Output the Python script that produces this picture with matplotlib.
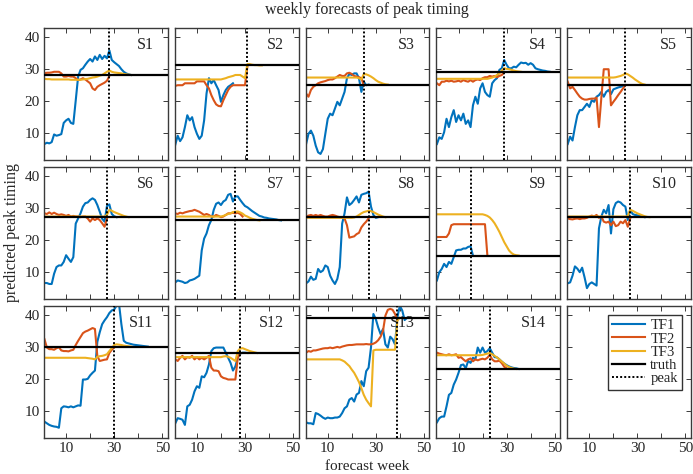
import numpy as np
import matplotlib
matplotlib.use('Agg')
import matplotlib.pyplot as plt
from matplotlib.lines import Line2D

plt.rcParams['font.family'] = ['Liberation Serif', 'DejaVu Serif']

panel_names = ['S1', 'S2', 'S3', 'S4', 'S5', 'S6', 'S7', 'S8', 'S9', 'S10', 'S11', 'S12', 'S13', 'S14']
truth = [28, 31, 25, 29, 25, 27, 26, 27, 15, 27, 30, 28, 39, 23]
peak_week = [28, 31, 25, 29, 25, 27, 26, 27, 15, 27, 30, 28, 39, 23]
series_names = ['TF1', 'TF2', 'TF3']
x_ticks = [10, 20, 30, 40, 50]
x_tick_labels = ['10', '', '30', '', '50']
y_ticks = [10, 20, 30, 40]
y_tick_labels = ['10', '20', '30', '40']

# ---- S1 ----
s1_tf1 = [6.4, 6.8, 6.6, 7.0, 9.4, 9.0, 9.2, 9.5, 13.0, 13.8, 14.3, 13.0, 12.7, 20.0, 27.5, 29.6, 30.1, 31.2, 32.2, 33.0,
          32.2, 33.8, 32.7, 34.3, 33.0, 34.0, 33.2, 35.7, 32.7, 32.0, 31.4, 30.8, 29.8, 29.0, 28.5, 28.2, 28.0]
s1_tf2 = [28.5, 28.7, 28.7, 28.8, 29.0, 29.0, 29.0, 28.5, 27.5, 27.5, 27.7, 27.5, 27.5, 27.0, 26.4, 26.6, 27.0, 26.6,
          26.0, 25.4, 23.8, 23.3, 24.3, 24.8, 25.2, 25.6, 26.2, 27.7]
s1_tf3 = [26.8, 26.7, 26.7, 26.6, 26.6, 26.6, 26.6, 26.6, 26.6, 26.6, 26.6, 26.5, 26.5, 26.5, 26.5, 26.5, 26.6, 26.7,
          26.8, 27.0, 27.2, 27.3, 27.5, 27.8, 28.0, 28.5, 29.0, 29.4, 29.0, 28.8, 28.7, 28.6, 28.5, 28.3, 28.2, 28.1, 28.0]
# ---- S2 ----
s2_tf1 = [6.2, 9.0, 7.3, 8.5, 11.7, 15.4, 13.8, 14.8, 11.7, 9.6, 8.0, 9.0, 13.8, 22.2, 27.0, 25.4, 26.4, 24.8, 23.3,
          19.6, 21.7, 23.3, 24.3, 24.8, 25.4]
s2_tf2 = [24.6, 24.8, 24.8, 24.8, 25.4, 25.4, 25.4, 25.4, 25.4, 26.0, 26.0, 26.0, 26.0, 24.8, 23.8, 21.7, 20.1, 18.8,
          18.3, 18.2, 20.1, 21.7, 23.3, 24.3, 24.8, 24.8, 24.8, 24.8, 24.8, 24.8, 30.6]
s2_tf3 = [26.6, 26.6, 26.6, 26.6, 26.6, 26.6, 26.6, 26.6, 26.6, 26.6, 26.6, 26.6, 26.6, 26.6, 26.6, 26.6, 26.6, 26.6,
          26.6, 26.6, 26.8, 27.0, 27.3, 27.5, 27.7, 28.0, 28.0, 28.0, 27.5, 27.0, 31.4, 31.4, 31.2, 31.1, 31.1, 31.0, 31.0]
# ---- S3 ----
s3_tf1 = [6.4, 9.6, 10.6, 9.0, 5.9, 3.8, 3.3, 4.8, 9.6, 14.3, 15.9, 15.4, 17.5, 19.6, 18.5, 20.6, 22.7, 27.0, 28.3,
          28.0, 28.5, 28.5, 27.0, 22.7, 25.9, 24.8, 25.0]
s3_tf2 = [22.2, 21.2, 23.3, 24.3, 24.8, 25.4, 25.7, 25.9, 26.1, 26.4, 26.6, 26.6, 27.0, 27.5, 28.0, 27.7, 27.7, 28.5,
          28.7, 28.3, 27.7, 27.5, 27.3, 27.0, 24.8]
s3_tf3 = [27.2, 27.2, 27.2, 27.2, 27.2, 27.2, 27.2, 27.2, 27.2, 27.2, 27.2, 27.2, 27.2, 27.2, 27.2, 27.2, 27.2, 27.2,
          27.2, 27.2, 27.2, 27.2, 27.0, 26.6, 28.3, 28.2, 27.9, 27.5, 27.0, 26.4, 25.9, 25.6, 25.3, 25.1, 25.0]
# ---- S4 ----
s4_tf1 = [6.4, 8.5, 8.0, 10.1, 14.3, 11.7, 14.8, 17.0, 13.3, 15.4, 13.8, 15.9, 12.7, 13.8, 11.7, 18.5, 21.2, 19.0,
          23.8, 25.4, 22.7, 21.7, 21.2, 25.4, 26.4, 27.0, 29.6, 30.1, 32.7, 31.2, 30.1, 30.1, 30.6, 30.4, 31.2, 31.9,
          31.7, 31.8, 31.2, 31.7, 31.2, 30.1, 29.8, 29.6, 29.4, 29.3, 29.1, 29.0]
s4_tf2 = [25.4, 24.8, 25.9, 25.9, 26.2, 26.0, 26.2, 25.9, 26.0, 26.2, 25.9, 26.4, 26.1, 25.9, 26.4, 25.9, 26.4, 26.6,
          26.4, 27.0, 27.3, 27.3, 27.7, 27.5, 27.7, 27.3, 27.7, 28.0, 28.8]
s4_tf3 = [26.8, 26.8, 26.8, 26.8, 26.8, 26.8, 26.8, 26.8, 26.8, 26.8, 26.8, 26.8, 26.8, 26.8, 26.8, 26.8, 26.8, 26.8,
          26.8, 26.8, 26.8, 26.8, 27.0, 27.2, 27.5, 28.0, 28.5, 29.4, 30.1, 29.9, 29.8, 29.6, 29.4, 29.2, 29.1, 29.0]
# ---- S5 ----
s5_tf1 = [6.4, 8.7, 7.5, 11.7, 15.4, 17.0, 17.0, 18.0, 19.0, 18.0, 20.1, 19.6, 21.2, 21.7, 22.7, 21.2, 22.7, 23.3,
          22.0, 23.5, 23.8, 24.1, 24.3, 24.5, 24.8]
s5_tf2 = [25.9, 23.8, 24.3, 23.3, 22.2, 21.2, 20.6, 20.3, 20.3, 20.5, 20.6, 20.6, 20.9, 11.7, 21.0, 29.8, 29.8, 29.8,
          18.5, 19.6, 20.6, 21.7, 22.7, 23.8, 24.8]
s5_tf3 = [27.2, 27.2, 27.2, 27.2, 27.2, 27.2, 27.2, 27.2, 27.2, 27.2, 27.2, 27.2, 27.2, 27.2, 27.2, 27.2, 27.2, 27.2,
          27.2, 27.2, 27.3, 27.5, 27.7, 28.0, 28.5, 28.2, 27.7, 27.2, 26.6, 26.1, 25.6, 25.2, 25.0]
# ---- S6 ----
s6_tf1 = [6.4, 6.4, 6.1, 6.1, 9.3, 11.4, 11.9, 11.9, 13.0, 15.1, 14.0, 13.0, 14.5, 25.0, 26.6, 28.2, 30.3, 31.4,
          31.6, 32.4, 32.9, 32.4, 30.8, 28.7, 26.5, 25.6, 30.5, 31.0, 28.0, 27.3, 27.0]
s6_tf2 = [28.2, 28.0, 28.5, 28.0, 28.4, 28.0, 27.7, 27.9, 27.7, 27.4, 27.7, 27.2, 27.4, 27.2, 27.2, 27.0, 27.2, 27.2,
          26.6, 25.6, 26.6, 26.1, 26.6, 26.1, 25.1, 24.0, 26.6]
s6_tf3 = [27.2, 27.2, 27.2, 27.2, 27.2, 27.2, 27.2, 27.2, 27.2, 27.2, 27.2, 27.2, 27.2, 27.2, 27.2, 27.2, 27.2, 27.2,
          27.2, 27.2, 27.2, 27.2, 27.2, 27.2, 27.2, 27.2, 27.7, 29.3, 29.0, 28.6, 28.3, 28.0, 27.7, 27.4, 27.2, 27.0]
# ---- S7 ----
s7_tf1 = [6.6, 7.2, 7.0, 6.8, 6.4, 6.6, 7.2, 7.4, 7.7, 8.2, 8.7, 16.6, 20.3, 21.9, 24.5, 26.1, 29.3, 31.2, 31.6,
          30.8, 31.9, 32.4, 34.0, 34.3, 31.9, 33.5, 33.5, 32.4, 31.4, 30.5, 30.1, 29.5, 28.9, 28.4, 27.9, 27.4, 27.2,
          26.9, 26.8, 26.6, 26.5, 26.4, 26.3, 26.1, 26.0]
s7_tf2 = [28.2, 28.0, 28.4, 28.2, 28.5, 28.7, 28.9, 29.0, 29.3, 29.0, 28.7, 28.2, 27.7, 28.0, 27.7, 27.2, 27.2, 27.7,
          27.4, 27.0, 27.2, 27.7, 28.2, 28.2, 28.4, 28.2, 28.4, 28.0, 27.2]
s7_tf3 = [27.2, 27.2, 27.2, 27.2, 27.2, 27.2, 27.2, 27.2, 27.2, 27.2, 27.2, 27.2, 27.2, 27.2, 27.2, 27.2, 27.2, 27.2,
          27.2, 27.2, 27.4, 27.7, 28.0, 28.2, 28.6, 28.7, 28.8, 28.5, 28.1, 27.5, 27.2, 26.8, 26.5, 26.3, 26.1, 26.0]
# ---- S8 ----
s8_tf1 = [6.3, 6.9, 8.4, 7.4, 7.7, 10.8, 9.8, 10.3, 11.9, 11.4, 8.7, 7.2, 6.1, 7.7, 11.4, 25.0, 28.2, 33.2, 30.8,
          31.4, 32.4, 33.5, 31.6, 34.0, 34.3, 34.5, 35.0, 30.3, 27.7, 26.8, 27.0]
s8_tf2 = [27.2, 27.5, 27.7, 27.4, 27.7, 27.4, 27.7, 27.4, 27.2, 27.2, 27.5, 27.7, 27.5, 27.2, 27.0, 26.9, 26.6, 24.5,
          20.6, 20.8, 21.0, 21.7, 22.1, 23.8, 24.8, 25.6, 26.6]
s8_tf3 = [26.8, 26.8, 26.8, 26.8, 26.8, 26.8, 26.8, 26.8, 26.8, 26.8, 26.8, 26.8, 26.8, 26.8, 26.8, 26.8, 26.8, 26.8,
          26.8, 26.8, 26.9, 27.2, 27.7, 28.2, 28.6, 28.8, 29.0, 28.9, 28.6, 28.2, 27.8, 27.5, 27.2, 27.0]
# ---- S9 ----
s9_tf1 = [7.2, 9.8, 10.8, 12.4, 11.4, 13.0, 12.4, 14.5, 16.6, 16.8, 16.8, 17.2, 17.2, 17.7, 17.9, 15.0]
s9_tf2 = [20.8, 20.8, 20.8, 20.8, 20.8, 21.9, 24.5, 24.8, 24.8, 24.8, 24.8, 24.8, 24.8, 24.8, 24.8, 24.8, 24.8, 24.8,
          24.8, 24.8, 24.8, 15.0]
s9_tf3 = [27.9, 27.9, 27.9, 27.9, 27.9, 27.9, 27.9, 27.9, 27.9, 27.9, 27.9, 27.9, 27.9, 27.9, 27.9, 27.9, 27.9, 27.9,
          27.9, 27.9, 27.7, 27.4, 26.9, 26.1, 25.1, 23.8, 22.4, 20.8, 19.2, 17.9, 16.6, 15.8, 15.3, 15.1, 15.0]
# ---- S10 ----
s10_tf1 = [6.3, 6.6, 8.7, 11.6, 10.9, 9.8, 11.2, 8.2, 4.8, 6.1, 6.6, 6.1, 5.6, 23.5, 27.2, 29.3, 28.2, 30.8, 21.9,
           29.5, 31.4, 31.9, 31.6, 30.8, 30.3, 26.1, 29.3, 28.0, 27.7, 27.6, 27.4, 27.2, 27.0]
s10_tf2 = [26.6, 26.4, 26.3, 26.5, 26.6, 26.4, 26.6, 26.6, 26.8, 27.2, 27.5, 27.2, 27.7, 26.8, 27.2, 25.6, 25.3, 25.6,
           24.5, 25.6, 24.2, 24.5, 25.6, 25.1, 26.1, 24.0, 26.6]
s10_tf3 = [27.2, 27.2, 27.2, 27.2, 27.2, 27.2, 27.2, 27.2, 27.2, 27.2, 27.2, 27.2, 27.2, 27.2, 27.2, 27.2, 27.2, 27.2,
           27.2, 27.2, 27.2, 27.2, 27.2, 27.2, 27.2, 27.4, 29.3, 29.0, 28.6, 28.2, 27.9, 27.6, 27.3, 27.1, 27.0]
# ---- S11 ----
s11_tf1 = [6.5, 6.0, 5.5, 5.2, 5.0, 4.9, 4.6, 10.7, 11.3, 11.2, 11.0, 11.3, 11.0, 11.3, 11.6, 11.5, 19.7, 19.7, 19.9,
           21.0, 21.8, 22.5, 31.5, 34.5, 37.0, 38.2, 39.2, 40.5, 41.3, 41.6, 42.8, 43.5, 37.0, 31.8, 31.2, 31.0, 30.8,
           30.6, 30.5, 30.4, 30.3, 30.2, 30.1, 30.0]
s11_tf2 = [32.3, 29.7, 29.2, 29.2, 29.0, 29.5, 29.8, 28.8, 28.6, 28.6, 28.5, 28.8, 29.0, 30.5, 31.8, 33.0, 34.2, 34.7,
           35.0, 35.4, 35.8, 35.5, 27.0, 25.5, 25.7, 25.9, 26.0, 28.0, 29.0, 29.7]
s11_tf3 = [26.5, 26.5, 26.5, 26.5, 26.5, 26.5, 26.5, 26.5, 26.5, 26.5, 26.5, 26.5, 26.5, 26.5, 26.5, 26.5, 26.5, 26.5,
           26.4, 26.3, 26.2, 26.0, 26.8, 27.0, 27.1, 27.3, 27.6, 28.6, 29.5, 30.5, 30.7, 30.6, 30.5, 30.3, 30.2, 30.1,
           30.0]
# ---- S12 ----
s12_tf1 = [6.0, 7.6, 7.4, 7.1, 5.5, 11.3, 11.8, 13.4, 16.0, 17.6, 17.1, 20.7, 20.4, 21.8, 24.4, 28.6, 29.5, 29.7,
           29.7, 29.7, 29.7, 28.1, 26.5, 24.9, 22.5, 23.8, 26.5, 27.8, 28.1, 28.1, 28.0]
s12_tf2 = [26.0, 25.5, 26.5, 27.1, 26.0, 26.7, 26.5, 27.1, 26.0, 26.7, 26.0, 26.5, 26.0, 26.5, 27.1, 23.4, 22.5, 22.5,
           22.3, 20.7, 20.2, 20.0, 19.7, 19.7, 19.7, 19.7, 26.5, 28.1]
s12_tf3 = [26.7, 26.7, 26.7, 26.7, 26.7, 26.7, 26.7, 26.7, 26.7, 26.7, 26.7, 26.7, 26.7, 26.7, 26.7, 26.7, 26.7, 26.7,
           26.7, 26.7, 26.9, 27.0, 26.8, 26.5, 26.0, 25.5, 28.6, 29.4, 29.5, 29.2, 28.9, 28.6, 28.4, 28.2, 28.0]
# ---- S13 ----
s13_tf1 = [6.3, 6.0, 6.0, 5.7, 9.2, 8.9, 8.4, 7.8, 7.4, 7.8, 7.6, 7.6, 7.8, 7.8, 8.1, 9.2, 10.7, 11.3, 13.4, 13.9,
           12.8, 15.0, 15.5, 19.2, 17.6, 22.3, 23.4, 29.7, 40.2, 38.6, 36.0, 33.9, 35.5, 30.7, 29.7, 33.1, 32.3, 30.7,
           39.2, 42.8, 41.3, 38.3, 39.0]
s13_tf2 = [28.1, 28.6, 28.4, 28.8, 28.8, 29.0, 29.2, 29.4, 29.5, 29.5, 29.7, 29.5, 29.7, 29.9, 29.7, 30.0, 30.2, 30.4,
           30.5, 30.5, 30.6, 30.7, 30.7, 30.7, 30.7, 30.8, 30.7, 30.7, 30.9, 31.3, 32.0, 33.1, 34.9, 39.7, 41.5, 41.8,
           41.5, 40.2, 38.3]
s13_tf3 = [26.0, 26.0, 26.0, 26.0, 26.0, 26.0, 26.0, 26.0, 26.0, 26.0, 26.0, 26.0, 26.0, 26.0, 26.0, 25.7, 25.3, 24.6,
           23.9, 22.8, 21.8, 20.4, 18.9, 17.0, 14.9, 13.4, 12.3, 11.3, 28.8, 29.0, 29.0, 29.0, 29.0, 29.0, 29.0, 29.0,
           29.0, 29.0, 38.3, 39.0]
# ---- S14 ----
s14_tf1 = [6.3, 7.6, 8.1, 8.1, 11.3, 14.9, 15.5, 18.1, 19.7, 21.8, 24.2, 24.4, 23.2, 25.5, 24.9, 26.5, 26.0, 29.7,
           28.1, 29.7, 28.1, 28.6, 29.5, 28.1, 26.7, 26.6, 26.0, 25.3, 24.7, 24.2, 23.8, 23.5, 23.3, 23.2, 23.0]
s14_tf2 = [28.1, 27.8, 27.6, 27.4, 27.3, 27.6, 27.3, 27.4, 27.6, 26.5, 26.7, 26.0, 25.4, 26.0, 26.3, 25.4, 26.0, 25.7,
           26.0, 26.2, 26.0, 26.5, 27.4, 26.0, 25.4, 25.4, 25.6, 24.8, 23.7, 23.2]
s14_tf3 = [27.3, 27.3, 27.3, 27.3, 27.3, 27.3, 27.3, 27.3, 27.3, 27.3, 27.3, 27.3, 27.3, 27.3, 27.3, 27.3, 27.3, 27.3,
           27.3, 27.4, 27.6, 27.8, 28.0, 27.6, 27.1, 26.6, 26.0, 25.3, 24.7, 24.0, 23.6, 23.3, 23.1, 23.0]

tf1_all = [s1_tf1, s2_tf1, s3_tf1, s4_tf1, s5_tf1, s6_tf1, s7_tf1, s8_tf1, s9_tf1, s10_tf1, s11_tf1, s12_tf1, s13_tf1, s14_tf1]
tf2_all = [s1_tf2, s2_tf2, s3_tf2, s4_tf2, s5_tf2, s6_tf2, s7_tf2, s8_tf2, s9_tf2, s10_tf2, s11_tf2, s12_tf2, s13_tf2, s14_tf2]
tf3_all = [s1_tf3, s2_tf3, s3_tf3, s4_tf3, s5_tf3, s6_tf3, s7_tf3, s8_tf3, s9_tf3, s10_tf3, s11_tf3, s12_tf3, s13_tf3, s14_tf3]

colors = ['#0072BD', '#D95319', '#EDB120']
axis_color = '#3a3a3a'
text_color = '#262626'

fig, axes = plt.subplots(3, 5, figsize=(6.93, 4.74), dpi=100)
fig.subplots_adjust(left=44 / 693, right=691 / 693, top=1 - 28 / 474, bottom=1 - 438 / 474,
                    wspace=0.057, hspace=0.053)

for i, ax in enumerate(axes.flat):
    row, col = divmod(i, 5)
    ax.set_xlim(0.8, 52.3)
    ax.set_ylim(1.4, 42.7)
    ax.set_xticks(x_ticks)
    ax.set_yticks(y_ticks)
    if row == 2:
        ax.set_xticklabels(x_tick_labels)
    else:
        ax.set_xticklabels([])
    if col == 0:
        ax.set_yticklabels(y_tick_labels)
    else:
        ax.set_yticklabels([])
    ax.tick_params(direction='in', top=True, right=True, length=3.5, width=0.7,
                   colors=axis_color, labelcolor=text_color, labelsize=11, pad=3)
    for sp in ax.spines.values():
        sp.set_color(axis_color)
        sp.set_linewidth(1.0)
    if i < 14:
        ax.text(0.885, 0.935, panel_names[i], transform=ax.transAxes, ha='right', va='top',
                fontsize=11.5, color=text_color, zorder=1)
        for vals, c in zip([tf1_all[i], tf2_all[i], tf3_all[i]], colors):
            weeks = np.arange(1, len(vals) + 1)
            ax.plot(weeks, vals, color=c, lw=1.5, zorder=2)
        ax.axhline(truth[i], color='k', lw=1.6, zorder=3)
        ax.axvline(peak_week[i], color='k', ls=(0, (1, 1.1)), lw=1.4, zorder=3)
    else:
        handles = [Line2D([], [], color=colors[0], lw=1.5),
                   Line2D([], [], color=colors[1], lw=1.5),
                   Line2D([], [], color=colors[2], lw=1.5),
                   Line2D([], [], color='k', lw=1.6),
                   Line2D([], [], color='k', lw=1.4, ls=(0, (1, 1.1)))]
        leg = ax.legend(handles, series_names + ['truth', 'peak'], loc='upper right', fontsize=10.5,
                        frameon=True, fancybox=False, edgecolor='k', handlelength=2.2,
                        labelspacing=0.0, borderpad=0.3, handletextpad=0.4, borderaxespad=0.6,
                        alignment='left')
        leg.get_frame().set_linewidth(1.0)
        for t in leg.get_texts():
            t.set_color(text_color)

fig.text(367 / 693, 1 - 10 / 474, 'weekly forecasts of peak timing', ha='center', va='center',
         fontsize=11.5, color=text_color)
fig.text(367 / 693, 1 - 467 / 474, 'forecast week', ha='center', va='center', fontsize=11, color=text_color)
fig.text(12 / 693, 1 - 233 / 474, 'predicted peak timing', ha='center', va='center', rotation=90,
         fontsize=11.5, color=text_color)

fig.savefig('out.png', dpi=100)
